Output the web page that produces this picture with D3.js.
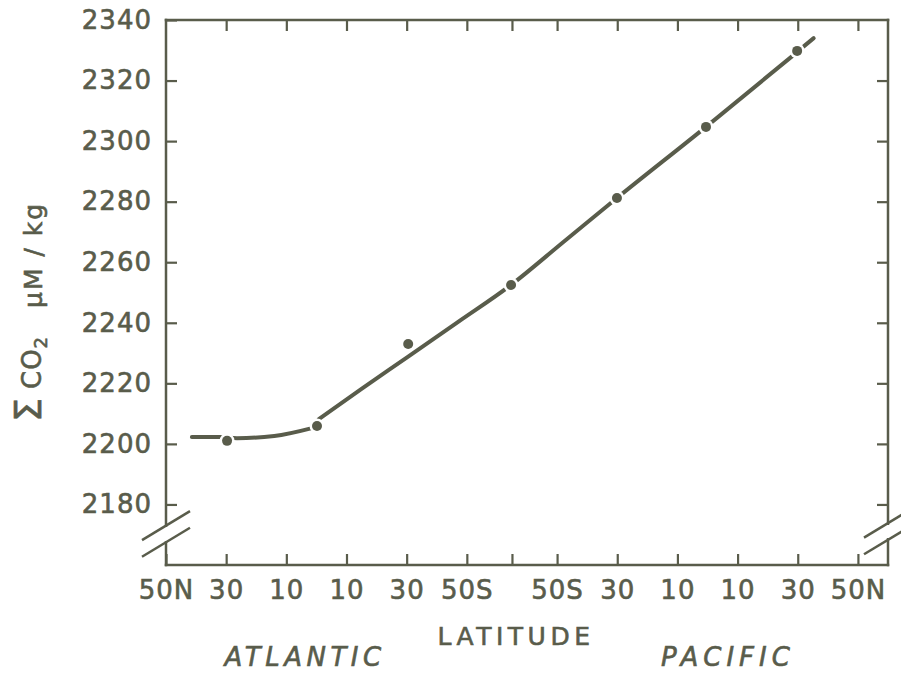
<!DOCTYPE html>
<html>
<head>
<meta charset="utf-8">
<script src="https://cdn.jsdelivr.net/npm/d3@7"></script>
<style>
  body { margin: 0; background: #fff; }
  svg { display: block; }
  text { font-family: "DejaVu Sans", sans-serif; fill: #595c4b; stroke: #595c4b; stroke-width: 0.6px; }
</style>
</head>
<body>
<div id="chart"></div>
<script>
// Data
// position along the section: Atlantic 50N (0) -> 50S (100), gap, Pacific 50S (130) -> 50N (230)
const tickPos = [0, 20, 40, 60, 80, 100, 115, 130, 150, 170, 190, 210, 230];
const tickLabels = ["50N", "30", "10", "10", "30", "50S", "", "50S", "30", "10", "10", "30", "50N"];
const yTicks = [2180, 2200, 2220, 2240, 2260, 2280, 2300, 2320, 2340];

// measured stations
const stationPos = [20.3, 50.2, 80.5, 114.7, 149.9, 179.5, 209.8];
const stationCO2 = [2201.0, 2205.9, 2233.0, 2252.5, 2281.2, 2304.7, 2329.8];

// hand drawn trend line, in two pieces (it kinks at the equator station)
const curveAPos = [8.6, 18, 23.6, 36, 48.5];
const curveACO2 = [2202.3, 2202.3, 2201.9, 2202.6, 2205.2];
const curveBPos = [50.8, 65, 80.5, 97, 114.7, 132, 149.9, 179.5, 209.8];
const curveBCO2 = [2208.2, 2218.2, 2228.8, 2240.2, 2252.5, 2266.6, 2281.2, 2304.7, 2329.4];
// dashed extension past the last station
const extPos = [212, 215.3];
const extCO2 = [2331.3, 2334.0];

const ink = "#595c4b";
const width = 901;
const height = 673;
const frame = { left: 166, right: 888, top: 20, bottom: 565 };

const svg = d3.select("#chart")
    .append("svg")
    .attr("width", width)
    .attr("height", height);

// Scales
const x = d3.scaleLinear()
    .domain([0, 240])
    .range([frame.left, frame.right]);

const y = d3.scaleLinear()
    .domain([2160, 2340])
    .range([frame.bottom, frame.top]);

// Axes (ticks point inward)
function clean(g) {
    g.select(".domain").remove();
    g.selectAll(".tick line").attr("stroke", ink).attr("stroke-width", 2.2);
    g.selectAll(".tick text").attr("fill", ink);
}

svg.append("g")
    .attr("transform", `translate(${frame.left},0)`)
    .call(d3.axisLeft(y).tickValues(yTicks).tickSize(-11).tickPadding(14).tickFormat(d3.format("d")))
    .call(clean)
    .selectAll("text")
    .attr("font-size", 26)
    .attr("font-family", "DejaVu Sans")
    .attr("letter-spacing", 1);

svg.append("g")
    .attr("transform", `translate(${frame.right},0)`)
    .call(d3.axisRight(y).tickValues(yTicks.slice(0, -1)).tickSize(-11).tickFormat(""))
    .call(clean);

svg.append("g")
    .attr("transform", `translate(0,${frame.bottom})`)
    .call(d3.axisBottom(x).tickValues(tickPos).tickSize(-11).tickPadding(16).tickFormat((d, i) => tickLabels[i]))
    .call(clean)
    .selectAll("text")
    .attr("font-size", 26)
    .attr("font-family", "DejaVu Sans")
    .attr("letter-spacing", 1);

svg.append("g")
    .attr("transform", `translate(0,${frame.top})`)
    .call(d3.axisTop(x).tickValues(tickPos.slice(1)).tickSize(-11).tickFormat(""))
    .call(clean);

// Frame with axis breaks near the bottom
const brk = [y(2173), y(2167.5)];
const frameLines = [
    [frame.left, frame.top, frame.right, frame.top],
    [frame.left, frame.bottom, frame.right, frame.bottom],
    [frame.left, frame.top, frame.left, brk[0]],
    [frame.left, brk[1], frame.left, frame.bottom],
    [frame.right, frame.top, frame.right, brk[0] - 2],
    [frame.right, brk[1] - 3, frame.right, frame.bottom]
];
svg.append("g")
    .selectAll("line")
    .data(frameLines)
    .join("line")
    .attr("x1", d => d[0]).attr("y1", d => d[1])
    .attr("x2", d => d[2]).attr("y2", d => d[3])
    .attr("stroke", ink)
    .attr("stroke-width", 2.5)
    .attr("stroke-linecap", "square");

const slashes = [];
[[frame.left, 0], [frame.right, -2.5]].forEach(([ax, off]) => {
    brk.forEach(yc => slashes.push([ax - 24, yc + off + 14.5, ax + 24, yc + off - 14.5]));
});
svg.append("g")
    .selectAll("line")
    .data(slashes)
    .join("line")
    .attr("x1", d => d[0]).attr("y1", d => d[1])
    .attr("x2", d => d[2]).attr("y2", d => d[3])
    .attr("stroke", ink)
    .attr("stroke-width", 2.5);

// Trend line
const line = d3.line()
    .x(d => x(d[0]))
    .y(d => y(d[1]))
    .curve(d3.curveMonotoneX);

[[curveAPos, curveACO2], [curveBPos, curveBCO2], [extPos, extCO2]].forEach(([p, v]) => {
    svg.append("path")
        .attr("d", line(d3.zip(p, v)))
        .attr("fill", "none")
        .attr("stroke", ink)
        .attr("stroke-width", 4)
        .attr("stroke-linecap", "round");
});

// Stations (white halo breaks the line around each dot)
const stations = d3.zip(stationPos, stationCO2);
svg.append("g")
    .selectAll("circle")
    .data(stations)
    .join("circle")
    .attr("cx", d => x(d[0]))
    .attr("cy", d => y(d[1]))
    .attr("r", 7.5)
    .attr("fill", "#fff");

svg.append("g")
    .selectAll("circle")
    .data(stations)
    .join("circle")
    .attr("cx", d => x(d[0]))
    .attr("cy", d => y(d[1]))
    .attr("r", 5)
    .attr("fill", ink);

// Titles
svg.append("text")
    .attr("x", 516)
    .attr("y", 645)
    .attr("text-anchor", "middle")
    .attr("font-size", 25)
    .attr("letter-spacing", 4.5)
    .text("LATITUDE");

svg.append("text")
    .attr("x", 305)
    .attr("y", 666)
    .attr("text-anchor", "middle")
    .attr("font-size", 26)
    .attr("font-style", "italic")
    .attr("letter-spacing", 4.5)
    .text("ATLANTIC");

svg.append("text")
    .attr("x", 728)
    .attr("y", 666)
    .attr("text-anchor", "middle")
    .attr("font-size", 26)
    .attr("font-style", "italic")
    .attr("letter-spacing", 5)
    .text("PACIFIC");

const yTitle = svg.append("text")
    .attr("transform", "translate(41,422) rotate(-90)");
yTitle.append("tspan").attr("x", 0).attr("font-size", 38).text("Σ");
yTitle.append("tspan").attr("x", 33).attr("font-size", 26).attr("letter-spacing", 1).text("CO");
yTitle.append("tspan").attr("dy", 6).attr("font-size", 18).text("2");
yTitle.append("tspan").attr("x", 114).attr("dy", -5).attr("font-size", 25).attr("letter-spacing", 2).text("μM / kg");
</script>
</body>
</html>
